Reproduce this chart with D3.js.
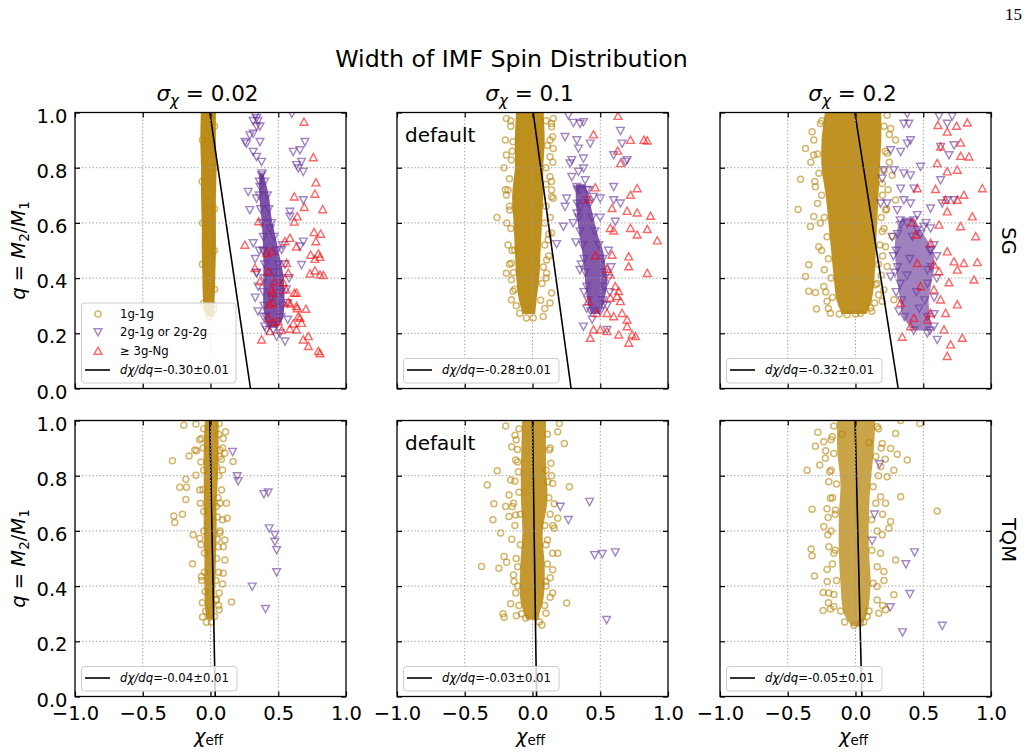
<!DOCTYPE html>
<html>
<head>
<meta charset="utf-8">
<script src="https://cdn.jsdelivr.net/npm/d3@7"></script>
<style>
  body { margin: 0; background: #fff; }
  svg text { font-family: "DejaVu Sans", sans-serif; fill: #000; }
</style>
</head>
<body>
<div id="chart"></div>
<script>
// ---- values ----
const sigmaValues = ["0.02", "0.1", "0.2"];
const rowNames = ["SG", "TQM"];
const xTicks = [-1, -0.5, 0, 0.5, 1];
const yTicks = [0, 0.2, 0.4, 0.6, 0.8, 1];
const legendLabels = ["1g-1g", "2g-1g or 2g-2g", "\u2265 3g-Ng"];

// linear fit chi = intercept + slope*q, rows SG / TQM, columns sigma
const fitSlopes = [[-0.30, -0.28, -0.32], [-0.04, -0.03, -0.05]];
const fitIntercepts = [[0.295, 0.285, 0.315], [0.035, 0.03, 0.047]];
const fitErrors = [[0.01, 0.01, 0.01], [0.01, 0.01, 0.01]];

// dense (saturated) parts of the clouds: [q, chi_left, chi_right]
const sgLowGoldCore = [[1.02,-0.07,0.04],[0.9,-0.075,0.04],[0.8,-0.07,0.045],[0.7,-0.07,0.04],[0.6,-0.065,0.04],[0.5,-0.065,0.04],[0.4,-0.06,0.035],[0.32,-0.055,0.03],[0.28,-0.045,0.025],[0.26,-0.03,0.015]];
const sgMidGoldCore = [[1.02,-0.12,0.08],[0.9,-0.13,0.09],[0.8,-0.13,0.08],[0.7,-0.15,0.08],[0.6,-0.14,0.07],[0.5,-0.13,0.06],[0.4,-0.12,0.05],[0.32,-0.1,0.03],[0.27,-0.07,0.02]];
const sgHighGoldCore = [[1.02,-0.22,0.19],[0.9,-0.25,0.19],[0.8,-0.25,0.18],[0.7,-0.22,0.17],[0.6,-0.2,0.16],[0.5,-0.18,0.15],[0.4,-0.16,0.14],[0.32,-0.14,0.12],[0.27,-0.1,0.08]];
const tqmLowGoldCore = [[1.02,-0.04,0.06],[0.9,-0.05,0.06],[0.8,-0.05,0.055],[0.7,-0.05,0.045],[0.6,-0.05,0.045],[0.5,-0.045,0.04],[0.4,-0.045,0.035],[0.32,-0.04,0.03],[0.28,-0.03,0.02]];
const tqmMidGoldCore = [[1.02,-0.075,0.1],[0.833,-0.085,0.1],[0.712,-0.085,0.11],[0.592,-0.075,0.075],[0.471,-0.09,0.09],[0.351,-0.09,0.08],[0.278,-0.045,0.035]];
const tqmHighGoldCore = [[1.02,-0.135,0.148],[0.893,-0.135,0.135],[0.772,-0.111,0.111],[0.652,-0.123,0.099],[0.531,-0.123,0.099],[0.411,-0.111,0.111],[0.302,-0.086,0.086],[0.254,-0.025,0.037]];

const sgLowPurpleCore = [[0.78,0.36,0.39],[0.7,0.36,0.43],[0.62,0.375,0.45],[0.55,0.385,0.48],[0.48,0.39,0.51],[0.42,0.39,0.535],[0.36,0.39,0.545],[0.3,0.39,0.545],[0.25,0.405,0.53],[0.22,0.43,0.49]];
const sgMidPurpleCore = [[0.74,0.32,0.39],[0.68,0.32,0.42],[0.62,0.33,0.45],[0.56,0.345,0.48],[0.5,0.365,0.52],[0.44,0.38,0.54],[0.38,0.39,0.55],[0.32,0.405,0.53],[0.27,0.43,0.5]];
const sgHighPurpleCore = [[0.62,0.34,0.43],[0.56,0.3,0.5],[0.5,0.29,0.57],[0.44,0.3,0.58],[0.38,0.31,0.56],[0.32,0.33,0.54],[0.26,0.35,0.55],[0.21,0.43,0.56]];

// individual points: [chi_eff, q]
const sgLowGold = [[-0.03,0.29],[0.007,0.273],[-0.01,0.261],[0.025,0.286],[-0.05,0.31],[0.02,0.3],[-0.06,0.9],[-0.062,0.75],[-0.058,0.6],[-0.06,0.45],[0.03,0.95],[0.032,0.8],[0.03,0.65],[0.028,0.5],[0.03,0.36]];
const sgLowPurple = [[0.33,0.99],[0.34,0.98],[0.35,0.97],[0.315,0.97],[0.365,0.95],[0.34,0.95],[0.255,0.894],[0.29,0.918],[0.315,0.924],[0.365,0.894],[0.315,0.858],[0.34,0.84],[0.377,0.822],[0.266,0.888],[0.60,0.996],[0.61,0.858],[0.66,0.864],[0.697,0.894],[0.672,0.822],[0.635,0.81],[0.685,0.786],[0.648,0.798],[0.278,0.713],[0.34,0.689],[0.29,0.647],[0.365,0.731],[0.377,0.773],[0.685,0.683],[0.586,0.641],[0.685,0.533],[0.66,0.515],[0.672,0.448],[0.525,0.503],[0.586,0.623],[0.315,0.527],[0.39,0.497],[0.34,0.418],[0.39,0.261],[0.40,0.225],[0.463,0.213],[0.512,0.20],[0.55,0.171],[0.488,0.189],[0.352,0.37],[0.33,0.47],[0.414,0.213],
  [0.36,0.75],[0.40,0.75],[0.36,0.70],[0.42,0.70],[0.37,0.65],[0.43,0.65],[0.38,0.60],[0.45,0.60],[0.39,0.55],[0.47,0.55],[0.39,0.50],[0.49,0.50],[0.40,0.45],[0.50,0.45],[0.395,0.40],[0.52,0.40],[0.39,0.35],[0.52,0.35],[0.395,0.30],[0.53,0.30],[0.41,0.26],[0.52,0.26],[0.43,0.23],[0.49,0.23],[0.38,0.78],[0.44,0.58],[0.47,0.42],[0.45,0.33],
  [0.34,0.42],[0.58,0.40],[0.33,0.33],[0.57,0.31],[0.56,0.36],[0.35,0.28],[0.57,0.25],[0.55,0.45],[0.36,0.5],[0.53,0.52]];
const sgLowRed = [[0.69,0.966],[0.759,0.837],[0.778,0.746],[0.771,0.705],[0.618,0.695],[0.828,0.649],[0.692,0.657],[0.64,0.623],[0.618,0.604],[0.355,0.605],[0.764,0.566],[0.813,0.56],[0.586,0.545],[0.549,0.533],[0.254,0.52],[0.635,0.514],[0.778,0.533],[0.739,0.484],[0.796,0.488],[0.808,0.476],[0.771,0.469],[0.414,0.49],[0.45,0.496],[0.328,0.436],[0.426,0.424],[0.562,0.454],[0.574,0.418],[0.734,0.416],[0.771,0.427],[0.808,0.412],[0.833,0.41],[0.475,0.388],[0.537,0.384],[0.557,0.358],[0.618,0.346],[0.635,0.346],[0.574,0.312],[0.586,0.307],[0.635,0.298],[0.64,0.29],[0.704,0.288],[0.648,0.261],[0.66,0.255],[0.672,0.237],[0.611,0.235],[0.586,0.216],[0.438,0.304],[0.45,0.358],[0.463,0.346],[0.458,0.312],[0.377,0.177],[0.438,0.207],[0.525,0.211],[0.635,0.213],[0.685,0.177],[0.722,0.189],[0.722,0.153],[0.796,0.135],[0.808,0.127],[0.426,0.255],[0.463,0.24],[0.50,0.243],[0.365,0.388]];

const sgMidGold = [[-0.193,0.978],[-0.161,0.97],[0.153,0.978],[0.141,0.948],[0.149,0.912],[-0.144,0.894],[-0.193,0.846],[0.153,0.87],[0.129,0.84],[-0.181,0.719],[-0.193,0.701],[0.141,0.719],[0.141,0.695],[0.153,0.689],[-0.262,0.62],[0.141,0.563],[-0.193,0.418],[-0.144,0.352],[0.141,0.346],[0.129,0.31],[0.079,0.261],[-0.156,0.394],[0.104,0.466],[-0.156,0.454],[-0.131,0.502],[-0.045,0.255],[0.005,0.255],[-0.094,0.273],[0.116,0.539],[0.129,0.767],[-0.156,0.828],[-0.168,0.647],[0.104,0.418],[-0.156,0.322],[-0.16,0.95],[-0.15,0.86],[-0.17,0.76],[-0.17,0.66],[-0.16,0.58],[-0.15,0.5],[-0.14,0.42],[-0.13,0.36],[0.1,0.97],[0.11,0.88],[0.1,0.8],[0.1,0.74],[0.1,0.66],[0.09,0.6],[0.09,0.52],[0.08,0.44],[0.07,0.38],[0.06,0.32],
  [-0.2,0.9],[-0.21,0.8],[-0.2,0.72],[-0.19,0.6],[-0.18,0.52],[-0.17,0.45],[0.14,0.96],[0.13,0.9],[0.15,0.82],[0.14,0.75],[0.13,0.62],[0.12,0.56],[0.12,0.48],[0.1,0.4],[0.09,0.29],[-0.12,0.3]];
const sgMidPurple = [[0.265,0.99],[0.302,0.963],[0.351,0.96],[0.376,0.966],[0.24,0.912],[0.327,0.9],[0.426,0.888],[0.339,0.87],[0.29,0.828],[0.277,0.816],[0.376,0.834],[0.649,0.934],[0.661,0.888],[0.599,0.846],[0.698,0.828],[0.686,0.822],[0.339,0.786],[0.376,0.798],[0.29,0.767],[0.389,0.755],[0.327,0.731],[0.351,0.719],[0.413,0.719],[0.45,0.695],[0.50,0.689],[0.40,0.683],[0.252,0.689],[0.24,0.659],[0.351,0.659],[0.327,0.635],[0.599,0.731],[0.599,0.683],[0.649,0.671],[0.611,0.605],[0.228,0.587],[0.178,0.524],[0.55,0.213],[0.376,0.225],[0.525,0.304],
  [0.33,0.72],[0.40,0.72],[0.33,0.67],[0.42,0.67],[0.34,0.62],[0.44,0.62],[0.35,0.57],[0.46,0.57],[0.37,0.52],[0.49,0.52],[0.38,0.47],[0.52,0.47],[0.39,0.42],[0.53,0.42],[0.40,0.37],[0.53,0.37],[0.41,0.32],[0.52,0.32],[0.43,0.28],[0.50,0.28],[0.36,0.45],[0.56,0.40],[0.44,0.25],
  [0.30,0.6],[0.5,0.62],[0.32,0.53],[0.56,0.5],[0.35,0.43],[0.58,0.44],[0.38,0.35],[0.57,0.35],[0.4,0.29],[0.55,0.3]];
const sgMidRed = [[0.631,0.987],[0.45,0.92],[0.723,0.90],[0.822,0.90],[0.847,0.898],[0.629,0.861],[0.649,0.816],[0.463,0.728],[0.413,0.686],[0.587,0.653],[0.772,0.725],[0.723,0.701],[0.698,0.643],[0.772,0.637],[0.871,0.625],[0.574,0.581],[0.599,0.572],[0.723,0.581],[0.772,0.557],[0.847,0.577],[0.921,0.536],[0.463,0.482],[0.587,0.484],[0.71,0.478],[0.71,0.442],[0.847,0.418],[0.55,0.433],[0.574,0.412],[0.611,0.37],[0.636,0.352],[0.624,0.334],[0.574,0.328],[0.649,0.316],[0.413,0.316],[0.475,0.273],[0.55,0.273],[0.599,0.261],[0.698,0.249],[0.661,0.273],[0.698,0.225],[0.735,0.195],[0.76,0.189],[0.71,0.165],[0.636,0.195],[0.55,0.207],[0.50,0.213],[0.45,0.213],[0.426,0.183]];

const sgHighGold = [[-0.369,0.87],[-0.308,0.846],[-0.406,0.758],[-0.424,0.649],[-0.333,0.587],[-0.345,0.448],[-0.369,0.406],[-0.345,0.352],[-0.296,0.348],[-0.288,0.288],[-0.209,0.316],[0.234,0.99],[0.259,0.942],[0.296,0.90],[0.234,0.852],[0.271,0.773],[0.296,0.683],[0.271,0.551],[0.197,0.569],[0.222,0.514],[0.283,0.322],[0.197,0.316],[0.148,0.376],[0.111,0.292],[-0.308,0.9],[-0.296,0.731],[-0.308,0.623],[-0.271,0.514],[-0.234,0.37],[-0.185,0.273],[-0.062,0.267],[0.037,0.273],[0.222,0.647],[0.234,0.442],[0.197,0.743],[-0.259,0.96],[0.209,0.358],[-0.25,0.97],[-0.28,0.85],[-0.27,0.78],[-0.25,0.7],[-0.23,0.62],[-0.21,0.55],[-0.2,0.47],[-0.18,0.4],[-0.17,0.33],[0.21,0.95],[0.22,0.86],[0.21,0.79],[0.2,0.7],[0.19,0.62],[0.18,0.52],[0.17,0.45],[0.16,0.38],[0.14,0.31],
  [-0.32,0.93],[-0.33,0.82],[-0.3,0.75],[-0.28,0.67],[-0.26,0.6],[-0.25,0.5],[-0.23,0.43],[-0.22,0.35],[-0.2,0.29],[0.25,0.92],[0.25,0.82],[0.24,0.72],[0.23,0.65],[0.21,0.58],[0.2,0.48],[0.19,0.41],[0.17,0.34],[0.12,0.28],[0.0,0.27],[-0.12,0.27]];
const sgHighPurple = [[0.382,0.996],[0.616,0.987],[0.714,0.987],[0.357,0.96],[0.394,0.96],[0.677,0.96],[0.406,0.90],[0.382,0.888],[0.259,0.864],[0.333,0.858],[0.48,0.804],[0.628,0.755],[0.69,0.846],[0.727,0.882],[0.628,0.876],[0.209,0.792],[0.283,0.792],[0.357,0.78],[0.406,0.773],[0.431,0.725],[0.333,0.725],[0.357,0.683],[0.406,0.671],[0.185,0.671],[0.234,0.671],[0.554,0.653],[0.64,0.671],[0.677,0.683],[0.727,0.683],[0.456,0.629],[0.382,0.599],[0.333,0.593],[0.456,0.575],[0.505,0.587],[0.554,0.581],[0.554,0.502],[0.579,0.52],[0.53,0.43],[0.53,0.201],[0.603,0.177],[0.579,0.225],[0.259,0.406],[0.308,0.647],[0.197,0.761],
  [0.33,0.61],[0.43,0.61],[0.31,0.56],[0.48,0.56],[0.30,0.50],[0.55,0.50],[0.31,0.44],[0.56,0.44],[0.33,0.38],[0.53,0.38],[0.34,0.32],[0.51,0.32],[0.36,0.26],[0.53,0.26],[0.43,0.21],[0.55,0.21],[0.40,0.47],[0.45,0.35],[0.42,0.55],[0.47,0.29],[0.38,0.41],
  [0.28,0.48],[0.6,0.48],[0.29,0.42],[0.6,0.4],[0.3,0.35],[0.58,0.33],[0.32,0.28],[0.58,0.27],[0.27,0.55],[0.52,0.6]];
const sgHighRed = [[0.608,0.954],[0.677,0.93],[0.746,0.951],[0.825,0.963],[0.776,0.89],[0.628,0.876],[0.776,0.842],[0.837,0.84],[0.603,0.816],[0.677,0.786],[0.751,0.792],[0.456,0.725],[0.591,0.722],[0.936,0.725],[0.665,0.683],[0.751,0.683],[0.80,0.701],[0.677,0.641],[0.616,0.593],[0.776,0.587],[0.862,0.623],[0.419,0.601],[0.887,0.551],[0.443,0.557],[0.554,0.527],[0.677,0.496],[0.727,0.46],[0.80,0.454],[0.899,0.457],[0.751,0.43],[0.579,0.448],[0.456,0.454],[0.616,0.424],[0.69,0.384],[0.874,0.394],[0.48,0.37],[0.579,0.358],[0.628,0.322],[0.751,0.304],[0.554,0.273],[0.665,0.273],[0.333,0.31],[0.431,0.255],[0.53,0.249],[0.653,0.213],[0.788,0.183],[0.702,0.159],[0.677,0.117],[0.345,0.187],[0.406,0.225]];

const tqmLowGold = [[-0.197,0.983],[-0.108,0.987],[0.064,0.989],[0.111,0.959],[-0.067,0.935],[0.094,0.935],[-0.281,0.854],[-0.158,0.871],[-0.116,0.893],[-0.103,0.89],[0.069,0.893],[0.106,0.881],[0.167,0.851],[0.044,0.833],[0.089,0.821],[-0.182,0.787],[-0.108,0.802],[-0.227,0.758],[-0.177,0.758],[-0.182,0.714],[-0.079,0.748],[0.081,0.748],[-0.271,0.654],[-0.264,0.63],[-0.207,0.66],[-0.128,0.586],[-0.079,0.573],[0.089,0.64],[0.123,0.646],[0.106,0.567],[0.094,0.543],[0.106,0.495],[-0.133,0.481],[-0.067,0.435],[0.094,0.447],[0.089,0.408],[0.064,0.375],[0.155,0.342],[-0.059,0.288],[-0.03,0.269],[0.044,0.351],[0.057,0.543],[0.069,0.592],[0.118,0.70],[0.044,0.688],[0.007,0.269],[0.064,0.314],
  [-0.05,0.97],[0.06,0.95],[-0.055,0.9],[0.065,0.87],[-0.05,0.82],[0.06,0.8],[-0.055,0.75],[0.055,0.72],[-0.05,0.67],[0.05,0.65],[-0.05,0.6],[0.05,0.57],[-0.045,0.52],[0.045,0.5],[-0.045,0.45],[0.04,0.42],[-0.04,0.38],[0.04,0.35],[-0.035,0.31],[0.03,0.29],
  [-0.08,0.93],[0.09,0.9],[-0.07,0.85],[0.08,0.86],[-0.075,0.7],[0.07,0.7],[-0.07,0.55],[0.07,0.6],[-0.065,0.42],[0.06,0.45],[-0.06,0.34],[0.06,0.33]];
const tqmLowPurple = [[0.163,0.887],[0.197,0.799],[0.204,0.781],[0.394,0.734],[0.426,0.74],[0.433,0.61],[0.475,0.586],[0.475,0.561],[0.488,0.531],[0.488,0.451],[0.308,0.399],[0.406,0.318]];
const tqmLowRed = [];

const tqmMidGold = [[-0.198,0.98],[-0.129,0.947],[-0.153,0.905],[-0.111,0.895],[0.198,0.989],[0.186,0.959],[0.235,0.917],[0.124,0.893],[0.136,0.845],[-0.26,0.818],[-0.104,0.814],[-0.334,0.766],[-0.161,0.784],[0.272,0.76],[0.111,0.778],[-0.173,0.73],[-0.285,0.698],[-0.198,0.688],[-0.149,0.688],[0.161,0.698],[-0.292,0.64],[-0.173,0.652],[-0.124,0.658],[0.186,0.646],[0.161,0.61],[-0.235,0.592],[-0.153,0.57],[0.149,0.519],[0.186,0.519],[-0.21,0.507],[-0.191,0.486],[-0.376,0.471],[-0.248,0.465],[0.149,0.459],[-0.136,0.417],[0.099,0.417],[0.149,0.375],[0.252,0.339],[-0.161,0.336],[-0.218,0.3],[-0.21,0.287],[-0.119,0.293],[-0.05,0.284],[0.069,0.259],[0.099,0.302],[0.025,0.29],[0.149,0.772],[-0.124,0.857],[0.111,0.567],[-0.124,0.375],[-0.1,0.97],[0.11,0.95],[-0.11,0.85],[0.1,0.82],[-0.1,0.74],[0.12,0.72],[-0.09,0.66],[0.09,0.62],[-0.09,0.55],[0.1,0.55],[-0.11,0.47],[0.11,0.48],[-0.11,0.4],[0.1,0.4],[-0.1,0.33],[0.09,0.33],
  [-0.13,0.78],[0.13,0.66],[-0.12,0.5],[0.13,0.43],[-0.13,0.62],[0.14,0.8],
  [-0.12,0.93],[0.13,0.9],[-0.14,0.7],[0.15,0.62],[-0.14,0.44],[0.13,0.36],[-0.08,0.3],[0.05,0.27]];
const tqmMidPurple = [[0.205,0.688],[0.265,0.64],[0.421,0.706],[0.458,0.513],[0.515,0.517],[0.611,0.523],[0.547,0.278]];
const tqmMidRed = [];

const tqmHighGold = [[-0.278,0.957],[-0.234,0.923],[-0.296,0.907],[-0.222,0.863],[-0.264,0.839],[-0.357,0.82],[-0.19,0.814],[-0.197,0.778],[-0.185,0.718],[-0.32,0.678],[-0.202,0.649],[-0.234,0.616],[-0.204,0.586],[-0.328,0.534],[-0.32,0.51],[-0.197,0.543],[-0.303,0.437],[-0.209,0.417],[-0.239,0.377],[-0.197,0.375],[-0.239,0.312],[-0.185,0.317],[0.333,1.0],[0.475,0.989],[0.296,0.953],[0.197,0.917],[0.259,0.899],[0.382,0.857],[0.308,0.878],[0.283,0.82],[0.234,0.796],[0.333,0.724],[0.222,0.7],[0.603,0.672],[0.259,0.634],[0.197,0.586],[0.246,0.61],[0.296,0.495],[0.209,0.453],[0.283,0.369],[0.222,0.314],[0.172,0.302],[-0.012,0.257],[0.037,0.266],[0.086,0.29],[-0.16,0.519],[0.185,0.519],[0.185,0.724],[-0.172,0.941],[0.16,0.977],[-0.16,0.326],[0.16,0.399],[-0.148,0.676],[0.185,0.833],[-0.16,0.98],[0.17,0.97],[-0.16,0.88],[0.15,0.87],[-0.14,0.77],[0.13,0.76],[-0.15,0.66],[0.12,0.64],[-0.15,0.53],[0.12,0.53],[-0.14,0.42],[0.13,0.41],[-0.11,0.31],[0.1,0.31],
  [-0.18,0.93],[0.19,0.9],[-0.18,0.82],[0.17,0.8],[-0.17,0.72],[0.15,0.7],[-0.18,0.6],[0.16,0.6],[-0.17,0.48],[0.16,0.47],[-0.16,0.37],[0.16,0.35],[-0.08,0.27],[0.06,0.27],
  [-0.22,0.89],[0.22,0.86],[-0.21,0.68],[0.2,0.66],[-0.21,0.46],[0.21,0.42],[-0.2,0.34],[0.2,0.33],[-0.1,0.95],[0.1,0.92]];
const tqmHighPurple = [[0.177,0.842],[0.14,0.66],[0.123,0.565],[0.436,0.523],[0.372,0.48],[0.401,0.372],[0.256,0.324],[0.64,0.257],[0.347,0.233]];
const tqmHighRed = [];

// ---- layout / style ----
const W = 1028, H = 754;
const PW = 271, PH = 276;
const colX = [75, 397, 720];
const rowY = [112.5, 420.5];
const GOLD = "#b8860b", PURPLE = "#663399", RED = "#ff0000";
const ALPHA = 0.6;
const goldCoreOpacity = [[0.95, 0.93, 0.9], [0.88, 0.85, 0.75]];
const purpleCoreOpacity = [0.85, 0.82, 0.62];

const panels = [
  {row: 0, col: 0, goldCore: sgLowGoldCore, gold: sgLowGold, purpleCore: sgLowPurpleCore, purple: sgLowPurple, red: sgLowRed},
  {row: 0, col: 1, goldCore: sgMidGoldCore, gold: sgMidGold, purpleCore: sgMidPurpleCore, purple: sgMidPurple, red: sgMidRed},
  {row: 0, col: 2, goldCore: sgHighGoldCore, gold: sgHighGold, purpleCore: sgHighPurpleCore, purple: sgHighPurple, red: sgHighRed},
  {row: 1, col: 0, goldCore: tqmLowGoldCore, gold: tqmLowGold, purpleCore: null, purple: tqmLowPurple, red: tqmLowRed},
  {row: 1, col: 1, goldCore: tqmMidGoldCore, gold: tqmMidGold, purpleCore: null, purple: tqmMidPurple, red: tqmMidRed},
  {row: 1, col: 2, goldCore: tqmHighGoldCore, gold: tqmHighGold, purpleCore: null, purple: tqmHighPurple, red: tqmHighRed}
];

const svg = d3.select("#chart").append("svg")
    .attr("width", W)
    .attr("height", H);

const x = d3.scaleLinear().domain([-1, 1]).range([0, PW]);
const y = d3.scaleLinear().domain([0, 1]).range([PH, 0]);

const coreArea = d3.area()
    .curve(d3.curveCatmullRom)
    .y(d => y(d[0]))
    .x0(d => x(d[1]))
    .x1(d => x(d[2]));

const TRI_UP = "M0,-3.9L3.9,3.3L-3.9,3.3Z";
const TRI_DOWN = "M0,3.9L3.9,-3.3L-3.9,-3.3Z";

function drawCircles(sel, data) {
    sel.selectAll(null).data(data).join("circle")
        .attr("cx", d => x(d[0]))
        .attr("cy", d => y(d[1]))
        .attr("r", 3)
        .attr("fill", "none")
        .attr("stroke", GOLD)
        .attr("stroke-width", 1.5)
        .attr("stroke-opacity", ALPHA);
}

function drawTriangles(sel, data, shape, color) {
    sel.selectAll(null).data(data).join("path")
        .attr("d", shape)
        .attr("transform", d => `translate(${x(d[0])},${y(d[1])})`)
        .attr("fill", "none")
        .attr("stroke", color)
        .attr("stroke-width", 1.4)
        .attr("stroke-opacity", ALPHA);
}

function fitLabel(t, row, col) {
    t.append("tspan").style("font-style", "italic").text("d\u03c7/dq");
    t.append("tspan").text("=" + fitSlopes[row][col].toFixed(2) + "\u00b1" + fitErrors[row][col].toFixed(2));
}

function styleAxis(ax) {
    ax.select(".domain").remove();
    ax.selectAll(".tick line").attr("stroke", "#000").attr("stroke-width", 1.2);
    ax.selectAll(".tick text")
        .attr("fill", "#000")
        .style("font-family", "'DejaVu Sans', sans-serif")
        .style("font-size", "19.5px");
}

panels.forEach((p, i) => {
    const g = svg.append("g")
        .attr("transform", `translate(${colX[p.col]},${rowY[p.row]})`);

    g.append("clipPath").attr("id", "clip" + i)
        .append("rect").attr("width", PW).attr("height", PH);

    const plot = g.append("g").attr("clip-path", `url(#clip${i})`);

    // 1g-1g cloud
    plot.append("path").datum(p.goldCore)
        .attr("d", coreArea)
        .attr("fill", GOLD)
        .attr("opacity", goldCoreOpacity[p.row][p.col]);
    drawCircles(plot, p.gold);

    // 2g cloud
    if (p.purpleCore) {
        plot.append("path").datum(p.purpleCore)
            .attr("d", coreArea)
            .attr("fill", PURPLE)
            .attr("opacity", purpleCoreOpacity[p.col]);
    }
    drawTriangles(plot, p.purple, TRI_DOWN, PURPLE);
    drawTriangles(plot, p.red, TRI_UP, RED);

    // dotted grid
    const grid = g.append("g")
        .attr("stroke", "#9a9a9a")
        .attr("stroke-width", 1)
        .attr("stroke-dasharray", "1.3,2.2");
    grid.selectAll(null).data(xTicks.slice(1, -1)).join("line")
        .attr("x1", d => x(d)).attr("x2", d => x(d))
        .attr("y1", 0).attr("y2", PH);
    grid.selectAll(null).data(yTicks.slice(1, -1)).join("line")
        .attr("x1", 0).attr("x2", PW)
        .attr("y1", d => y(d)).attr("y2", d => y(d));

    // fit line
    const slope = fitSlopes[p.row][p.col], b = fitIntercepts[p.row][p.col];
    plot.append("path").datum([0, 1])
        .attr("d", d3.line().x(q => x(b + slope * q)).y(q => y(q)))
        .attr("fill", "none")
        .attr("stroke", "#000")
        .attr("stroke-width", 1.6);

    // axes with inward ticks on all sides
    const fmt = d3.format(".1f");
    const bottom = g.append("g").attr("transform", `translate(0,${PH})`)
        .call(d3.axisBottom(x).tickValues(xTicks).tickSizeInner(-5).tickSizeOuter(0)
            .tickPadding(9.7).tickFormat(p.row === 1 ? fmt : () => ""));
    const top = g.append("g")
        .call(d3.axisTop(x).tickValues(xTicks).tickSizeInner(-5).tickSizeOuter(0).tickFormat(() => ""));
    const left = g.append("g")
        .call(d3.axisLeft(y).tickValues(yTicks).tickSizeInner(-5).tickSizeOuter(0)
            .tickPadding(7.5).tickFormat(p.col === 0 ? fmt : () => ""));
    const right = g.append("g").attr("transform", `translate(${PW},0)`)
        .call(d3.axisRight(y).tickValues(yTicks).tickSizeInner(-5).tickSizeOuter(0).tickFormat(() => ""));
    [bottom, top, left, right].forEach(styleAxis);
    left.selectAll(".tick text").attr("dy", "0.49em");

    g.append("rect")
        .attr("width", PW).attr("height", PH)
        .attr("fill", "none")
        .attr("stroke", "#000")
        .attr("stroke-width", 1.3);

    if (p.col === 1) {
        g.append("text").attr("x", 8).attr("y", 29)
            .style("font-size", "20px")
            .text("default");
    }

    // legend
    const leg = g.append("g").style("font-size", "11.7px");
    if (p.row === 0 && p.col === 0) {
        leg.append("rect")
            .attr("x", 6.5).attr("y", 190.5).attr("width", 154.5).attr("height", 80)
            .attr("rx", 3)
            .attr("fill", "#fff").attr("fill-opacity", 0.8)
            .attr("stroke", "#cccccc");
        const rowsY = [201.5, 219.5, 238.5, 257.5];
        const lx = 23;
        leg.append("circle").attr("cx", lx).attr("cy", rowsY[0]).attr("r", 3)
            .attr("fill", "none").attr("stroke", GOLD).attr("stroke-width", 1.5).attr("stroke-opacity", ALPHA);
        leg.append("path").attr("d", TRI_DOWN).attr("transform", `translate(${lx},${rowsY[1]})`)
            .attr("fill", "none").attr("stroke", PURPLE).attr("stroke-width", 1.4).attr("stroke-opacity", ALPHA);
        leg.append("path").attr("d", TRI_UP).attr("transform", `translate(${lx},${rowsY[2]})`)
            .attr("fill", "none").attr("stroke", RED).attr("stroke-width", 1.4).attr("stroke-opacity", ALPHA);
        legendLabels.forEach((lab, k) => {
            leg.append("text").attr("x", 45).attr("y", rowsY[k] + 4.2).text(lab);
        });
        leg.append("line").attr("x1", 10).attr("x2", 35).attr("y1", rowsY[3]).attr("y2", rowsY[3])
            .attr("stroke", "#000").attr("stroke-width", 1.6);
        fitLabel(leg.append("text").attr("x", 45).attr("y", rowsY[3] + 4.2), p.row, p.col);
    } else {
        const ly = PH - 18.5;
        leg.append("rect")
            .attr("x", 6.5).attr("y", PH - 30).attr("width", 155.5).attr("height", 24.5)
            .attr("rx", 3)
            .attr("fill", "#fff").attr("fill-opacity", 0.8)
            .attr("stroke", "#cccccc");
        leg.append("line").attr("x1", 10).attr("x2", 35).attr("y1", ly).attr("y2", ly)
            .attr("stroke", "#000").attr("stroke-width", 1.6);
        fitLabel(leg.append("text").attr("x", 45).attr("y", ly + 4.2), p.row, p.col);
    }
});

// column titles
sigmaValues.forEach((s, c) => {
    const t = svg.append("text")
        .attr("x", colX[c] + PW / 2 - 3)
        .attr("y", 101)
        .attr("text-anchor", "middle")
        .style("font-size", "21.5px");
    t.append("tspan").style("font-style", "italic").text("\u03c3");
    t.append("tspan").style("font-style", "italic").style("font-size", "15px").attr("dy", 4.5).text("\u03c7");
    t.append("tspan").attr("dy", -4.5).text(" = " + s);
});

// y labels and row labels
rowNames.forEach((name, r) => {
    const cy = rowY[r] + PH / 2;
    const yl = svg.append("text")
        .attr("transform", `translate(25,${cy}) rotate(-90)`)
        .attr("text-anchor", "middle")
        .style("font-size", "19.5px");
    yl.append("tspan").style("font-style", "italic").text("q");
    yl.append("tspan").text(" = ");
    yl.append("tspan").style("font-style", "italic").text("M");
    yl.append("tspan").style("font-size", "13.5px").attr("dy", 4).text("2");
    yl.append("tspan").attr("dy", -4).text("/");
    yl.append("tspan").style("font-style", "italic").text("M");
    yl.append("tspan").style("font-size", "13.5px").attr("dy", 4).text("1");

    svg.append("text")
        .attr("transform", `translate(1001.5,${cy - (r === 0 ? 9.5 : 18.5)}) rotate(90)`)
        .attr("text-anchor", "middle")
        .style("font-size", "19.5px")
        .text(name);
});

// x labels
colX.forEach(cx => {
    const t = svg.append("text")
        .attr("x", cx + PW / 2 - 2)
        .attr("y", 743)
        .attr("text-anchor", "middle")
        .style("font-size", "19.5px");
    t.append("tspan").style("font-style", "italic").text("\u03c7");
    t.append("tspan").style("font-size", "13.5px").attr("dy", 1.5).text("eff");
});

svg.append("text")
    .attr("x", 511.5).attr("y", 67)
    .attr("text-anchor", "middle")
    .style("font-size", "23.7px")
    .text("Width of IMF Spin Distribution");

svg.append("text")
    .attr("x", 1022).attr("y", 20)
    .attr("text-anchor", "end")
    .style("font-family", "'Liberation Serif', serif")
    .style("font-size", "17px")
    .text("15");
</script>
</body>
</html>
